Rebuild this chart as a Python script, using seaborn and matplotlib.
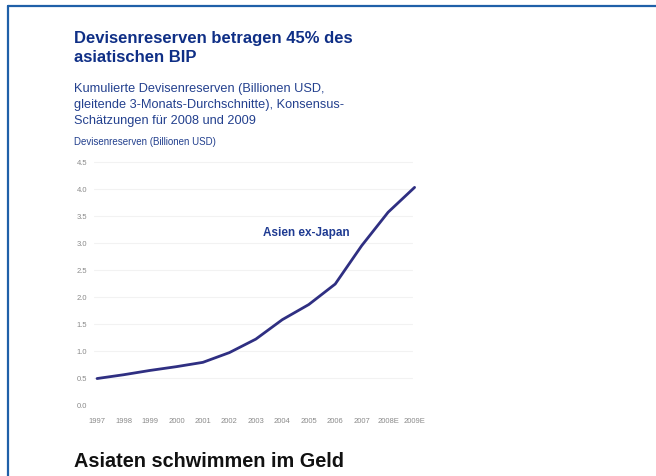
import matplotlib
matplotlib.use("Agg")
import matplotlib.pyplot as plt
import seaborn as sns
import pandas as pd
from matplotlib.lines import Line2D

years = ["1997", "1998", "1999", "2000", "2001", "2002", "2003", "2004",
         "2005", "2006", "2007", "2008E", "2009E"]
reserves = [0.49, 0.56, 0.64, 0.71, 0.79, 0.97, 1.22, 1.58, 1.86, 2.24, 2.95, 3.57, 4.03]
y_ticks = [0.0, 0.5, 1.0, 1.5, 2.0, 2.5, 3.0, 3.5, 4.0, 4.5]

df = pd.DataFrame({"pos": range(len(years)), "val": reserves})

sns.set_theme(style="white")
plt.rcParams["font.family"] = ["Liberation Sans", "DejaVu Sans"]

W, H = 656, 477
fig = plt.figure(figsize=(W / 100, H / 100), dpi=100)
fig.patch.set_facecolor("white")

# axes placement in pixels
left, right = 94.4, 422.0
bottom, top = 411.4, 157.6
ax = fig.add_axes([left / W, 1 - bottom / H, (right - left) / W, (bottom - top) / H])

sns.lineplot(data=df, x="pos", y="val", ax=ax, color="#2f2f82", linewidth=2.0)
ax.set_xlim(-0.1, 12.28)
ax.set_ylim(-0.1, 4.6)
ax.set_xticks(range(len(years)))
ax.set_xticklabels(years)
ax.set_yticks(y_ticks)
ax.set_yticklabels([f"{v:.1f}" for v in y_ticks])
ax.tick_params(axis="both", labelsize=5.5, colors="#8a8a8a", length=0, pad=5)
for s in ax.spines.values():
    s.set_visible(False)
ax.set_xlabel("")
ax.set_ylabel("")
for v in y_ticks[1:]:
    ax.axhline(v, color="#f2f2f2", linewidth=0.8, zorder=0, xmax=0.97)

ax.text(7.9, 3.2, "Asien ex-Japan", fontsize=8.5, fontweight="bold", color="#1f3b92",
        ha="center", va="center")

fig.text(74 / W, 1 - 39 / H, "Devisenreserven betragen 45% des",
         fontsize=12, fontweight="bold", color="#0f2f86", ha="left", va="center")
fig.text(74 / W, 1 - 58 / H, "asiatischen BIP",
         fontsize=12, fontweight="bold", color="#0f2f86", ha="left", va="center")
sub = ["Kumulierte Devisenreserven (Billionen USD,",
       "gleitende 3-Monats-Durchschnitte), Konsensus-",
       "Schätzungen für 2008 und 2009"]
for i, line in enumerate(sub):
    fig.text(74 / W, 1 - (89 + 16 * i) / H, line, fontsize=9.2, color="#23408e",
             ha="left", va="center")
fig.text(74 / W, 1 - 142 / H, "Devisenreserven (Billionen USD)", fontsize=7,
         color="#23408e", ha="left", va="center")
fig.text(74 / W, 1 - 462 / H, "Asiaten schwimmen im Geld", fontsize=14.3,
         fontweight="bold", color="#111111", ha="left", va="center")

# blue frame lines (left and top)
fig.add_artist(Line2D([8 / W, 8 / W], [0, 1 - 7 / H], transform=fig.transFigure,
                      color="#1f60a8", linewidth=1.6))
fig.add_artist(Line2D([8 / W, 1], [1 - 7 / H, 1 - 7 / H], transform=fig.transFigure,
                      color="#1f60a8", linewidth=1.6))

fig.savefig("out.png", dpi=100)
